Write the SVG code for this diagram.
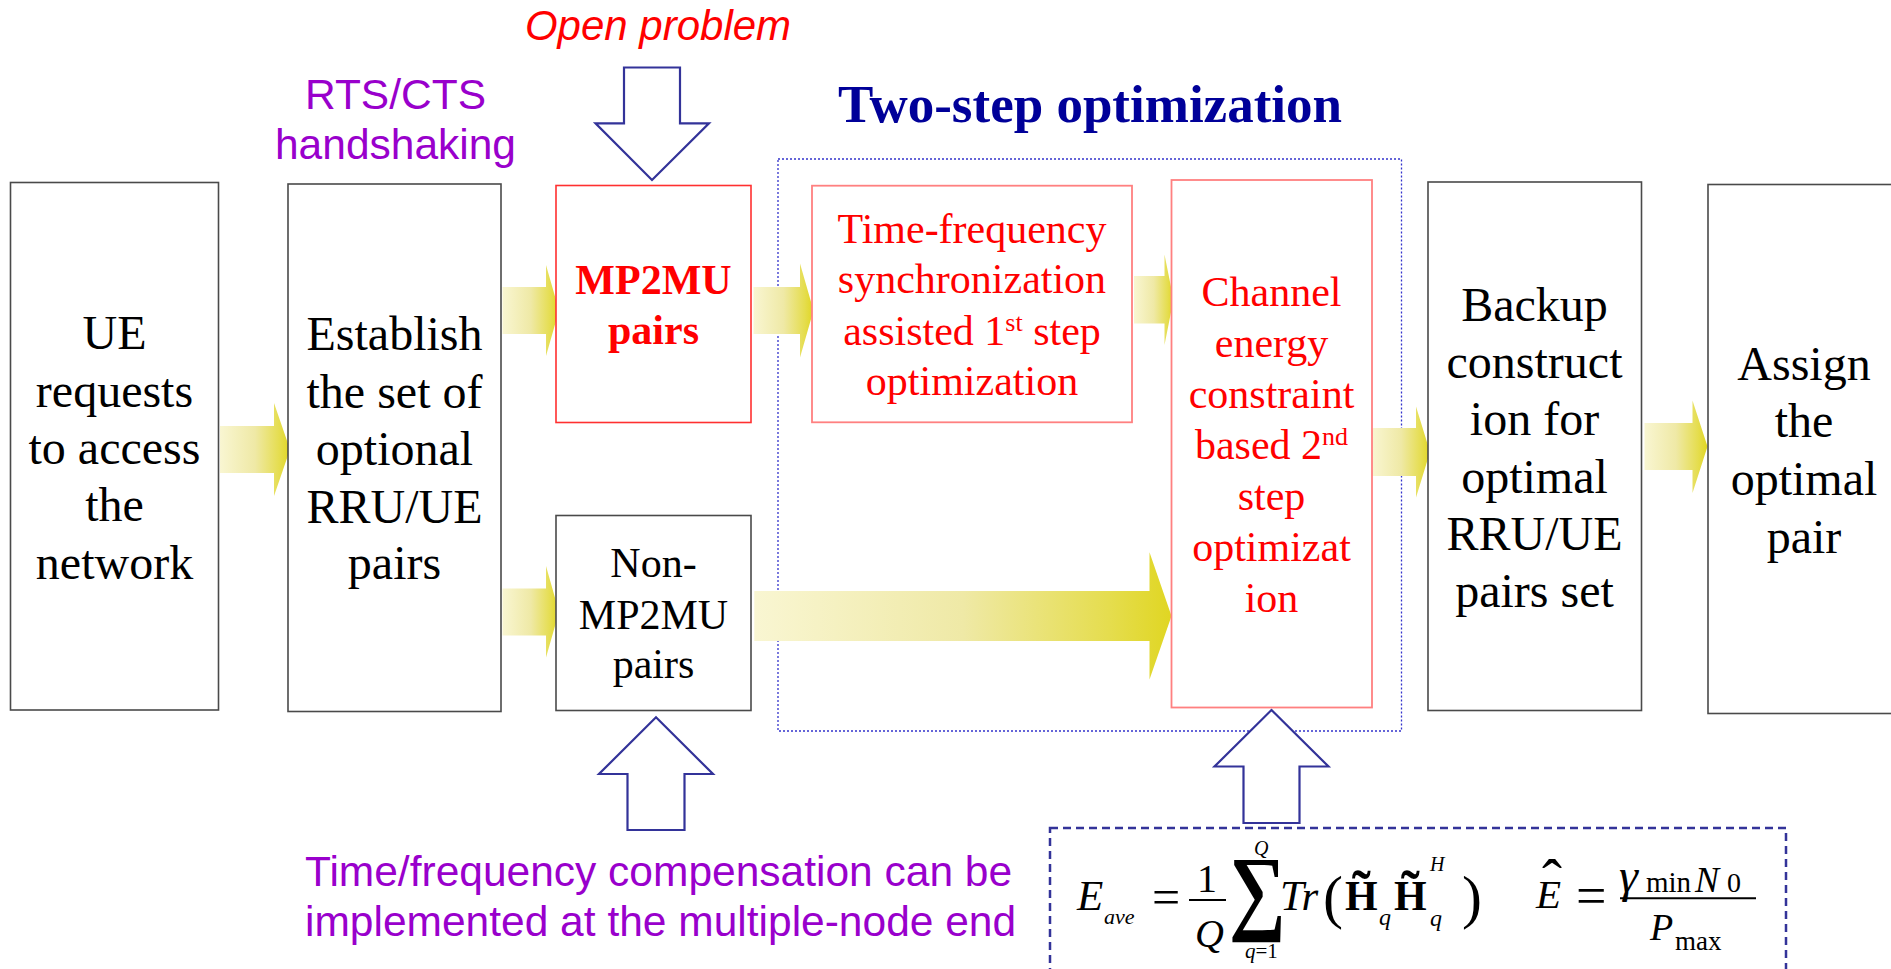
<svg xmlns="http://www.w3.org/2000/svg" width="1891" height="969" viewBox="0 0 1891 969">
  <style>
    .serif { font-family: "Liberation Serif", "Times New Roman", serif; }
    .sans { font-family: "Liberation Sans", Arial, sans-serif; }
    .box { fill: #ffffff; stroke: #4a4a4a; stroke-width: 1.6; }
    .box-red { fill: #ffffff; stroke: #ff8080; stroke-width: 1.8; }
    .box-hot { fill: #ffffff; stroke: #ff3030; stroke-width: 1.6; }
    .lbl { font-family: "Liberation Serif", "Times New Roman", serif; font-size: 48px; fill: #000000; text-anchor: middle; }
    .lbl-red { font-family: "Liberation Serif", "Times New Roman", serif; font-size: 42px; fill: #ff0000; text-anchor: middle; }
    .lbl-42 { font-family: "Liberation Serif", "Times New Roman", serif; font-size: 42px; fill: #000000; text-anchor: middle; }
    .note { font-family: "Liberation Sans", Arial, sans-serif; font-size: 42.5px; fill: #9900cc; }
    .flow { fill: url(#yellowFlow); stroke: none; }
    .hollow { fill: #ffffff; stroke: #333399; stroke-width: 2.2; stroke-linejoin: miter; }
    .math { font-family: "Liberation Serif", "Times New Roman", serif; fill: #000000; }
    .it { font-style: italic; }
    .bf { font-weight: bold; }
  </style>
  <defs>
    <linearGradient id="yellowFlow" x1="0" y1="0" x2="1" y2="0">
      <stop offset="0" stop-color="#f9f6d2"/>
      <stop offset="0.5" stop-color="#efe9a6"/>
      <stop offset="0.85" stop-color="#e5dd4e"/>
      <stop offset="1" stop-color="#e0d622"/>
    </linearGradient>
  </defs>

  <rect width="1891" height="969" fill="#ffffff"/>

  <!-- headings -->
  <g id="title-two-step">
    <text x="1090" y="121.5" class="serif" font-size="53" font-weight="bold" fill="#000099" text-anchor="middle">Two-step optimization</text>
  </g>
  <g id="label-open-problem">
    <text x="658" y="40" class="sans" font-size="42" font-style="italic" fill="#ff0000" text-anchor="middle">Open problem</text>
  </g>
  <g id="label-rts-cts">
    <text x="395.5" y="108.5" class="note" text-anchor="middle">RTS/CTS</text>
    <text x="395.5" y="159" class="note" text-anchor="middle">handshaking</text>
  </g>
  <g id="label-compensation">
    <text x="305" y="885.5" class="note">Time/frequency compensation can be</text>
    <text x="305" y="936" class="note">implemented at the multiple-node end</text>
  </g>

  <!-- dotted frame around the two optimization steps -->
  <g id="two-step-frame">
    <rect x="778" y="159" width="623.5" height="572" fill="none" stroke="#3333cc" stroke-width="1.3" stroke-dasharray="2 2"/>
  </g>

  <!-- connectors -->
  <g id="connectors">
    <path class="flow" d="M220,426 H274 V403 L290,449.5 L274,496 V473 H220 Z"/>
    <path class="flow" d="M502.5,287 H546 V265 L559,310.5 L546,356 V334 H502.5 Z"/>
    <path class="flow" d="M502.5,588.5 H546 V566 L559,612 L546,657.5 V635.5 H502.5 Z"/>
    <path class="flow" d="M753.5,287 H800 V263.5 L813.5,310.5 L800,357.5 V334 H753.5 Z"/>
    <path class="flow" d="M1134,276 H1164.5 V254.5 L1173.5,299.5 L1164.5,345 V323.5 H1134 Z"/>
    <path class="flow" d="M754.3,591 H1149.5 V552.3 L1171.5,616 L1149.5,679.5 V641 H754.3 Z"/>
    <path class="flow" d="M1372,428 H1416 V406.5 L1430,452 L1416,497.5 V476 H1372 Z"/>
    <path class="flow" d="M1644.5,423 H1692.5 V400.5 L1707.5,446.5 L1692.5,493 V470 H1644.5 Z"/>
    <!-- hollow annotation arrows -->
    <path class="hollow" d="M624,67.5 H680 V123.3 H709 L652,180 L595.5,123.3 H624 Z"/>
    <path class="hollow" d="M656,717.3 L713,774 H684.5 V830 H627.5 V774 H599 Z"/>
    <path class="hollow" d="M1271.5,710 L1328.5,766.5 H1299.5 V823 H1243.5 V766.5 H1214.5 Z"/>
  </g>

  <!-- nodes -->
  <g id="node-ue-request">
    <rect class="box" x="10.5" y="182.5" width="208" height="527.5"/>
    <text class="lbl" x="114.5" y="349">UE</text>
    <text class="lbl" x="114.5" y="406.5">requests</text>
    <text class="lbl" x="114.5" y="464">to access</text>
    <text class="lbl" x="114.5" y="521">the</text>
    <text class="lbl" x="114.5" y="578.5">network</text>
  </g>

  <g id="node-establish">
    <rect class="box" x="288" y="184" width="213" height="527.5"/>
    <text class="lbl" x="394.5" y="350">Establish</text>
    <text class="lbl" x="394.5" y="407.5">the set of</text>
    <text class="lbl" x="394.5" y="465">optional</text>
    <text class="lbl" x="394.5" y="522.5">RRU/UE</text>
    <text class="lbl" x="394.5" y="578.5">pairs</text>
  </g>

  <g id="node-mp2mu">
    <rect class="box-hot" x="556" y="185.5" width="195" height="237"/>
    <text class="lbl-red" x="653.5" y="293.5" font-weight="bold">MP2MU</text>
    <text class="lbl-red" x="653.5" y="343.5" font-weight="bold">pairs</text>
  </g>

  <g id="node-non-mp2mu">
    <rect class="box" x="556" y="515.5" width="195" height="195"/>
    <text class="lbl-42" x="653.5" y="576.5">Non-</text>
    <text class="lbl-42" x="653.5" y="628.5">MP2MU</text>
    <text class="lbl-42" x="653.5" y="678">pairs</text>
  </g>

  <g id="node-step-one">
    <rect class="box-red" x="812" y="185.7" width="320" height="236.6"/>
    <text class="lbl-red" x="972" y="242.7">Time-frequency</text>
    <text class="lbl-red" x="972" y="293.3">synchronization</text>
    <text class="lbl-red" x="972" y="345">assisted 1<tspan font-size="26" dy="-14">st</tspan><tspan dy="14"> step</tspan></text>
    <text class="lbl-red" x="972" y="395">optimization</text>
  </g>

  <g id="node-step-two">
    <rect class="box-red" x="1171.5" y="180" width="200.5" height="527.5"/>
    <text class="lbl-red" x="1271.5" y="305.5">Channel</text>
    <text class="lbl-red" x="1271.5" y="356.6">energy</text>
    <text class="lbl-red" x="1271.5" y="407.7">constraint</text>
    <text class="lbl-red" x="1271.5" y="458.8">based 2<tspan font-size="26" dy="-14">nd</tspan></text>
    <text class="lbl-red" x="1271.5" y="509.9">step</text>
    <text class="lbl-red" x="1271.5" y="561">optimizat</text>
    <text class="lbl-red" x="1271.5" y="612.1">ion</text>
  </g>

  <g id="node-backup">
    <rect class="box" x="1428" y="182" width="213.5" height="528.5"/>
    <text class="lbl" x="1534.5" y="321">Backup</text>
    <text class="lbl" x="1534.5" y="378.2">construct</text>
    <text class="lbl" x="1534.5" y="435.4">ion for</text>
    <text class="lbl" x="1534.5" y="492.6">optimal</text>
    <text class="lbl" x="1534.5" y="549.8">RRU/UE</text>
    <text class="lbl" x="1534.5" y="607">pairs set</text>
  </g>

  <g id="node-assign">
    <rect class="box" x="1708" y="184.5" width="200" height="529"/>
    <text class="lbl" x="1804" y="379.5">Assign</text>
    <text class="lbl" x="1804" y="437.2">the</text>
    <text class="lbl" x="1804" y="494.9">optimal</text>
    <text class="lbl" x="1804" y="552.6">pair</text>
  </g>

  <!-- energy formulas -->
  <g id="node-formulas">
    <rect x="1050" y="828" width="736" height="170" fill="none" stroke="#333399" stroke-width="2.5" stroke-dasharray="8 5"/>
    <line x1="1189" y1="900" x2="1226" y2="900" stroke="#000000" stroke-width="2"/>
    <line x1="1620" y1="898.3" x2="1756" y2="898.3" stroke="#000000" stroke-width="2"/>
    <!-- E_ave = (1/Q) sum_{q=1}^{Q} Tr(H~_q H~_q^H) -->
    <text class="math"><tspan class="it" x="1077" y="910" font-size="43">E</tspan><tspan class="it" x="1104" y="924" font-size="22">ave</tspan><tspan x="1152" y="914" font-size="50">=</tspan><tspan x="1197" y="891.5" font-size="40">1</tspan><tspan class="it" x="1195" y="947" font-size="40">Q</tspan><tspan class="it" x="1254" y="855" font-size="20">Q</tspan><tspan x="1245" y="958" font-size="21"><tspan class="it">q</tspan>=1</tspan><tspan class="it" x="1280" y="910" font-size="43">Tr</tspan><tspan x="1323" y="917" font-size="60">(</tspan><tspan class="bf" x="1345" y="910" font-size="42">H</tspan><tspan class="bf" x="1352" y="910" font-size="56">˜</tspan><tspan class="it" x="1379" y="925" font-size="24">q</tspan><tspan class="bf" x="1394" y="910" font-size="42">H</tspan><tspan class="bf" x="1401" y="910" font-size="56">˜</tspan><tspan class="it" x="1430" y="871" font-size="20">H</tspan><tspan class="it" x="1430" y="926" font-size="24">q</tspan><tspan x="1462" y="917" font-size="60">)</tspan></text>
    <text class="math bf" transform="translate(1229,922) scale(0.95,1.13)" font-size="84">∑</text>
    <!-- E^ = gamma_min N_0 / P_max -->
    <text class="math"><tspan class="it" x="1536" y="907.5" font-size="41">E</tspan><tspan x="1542" y="900" font-size="60">ˆ</tspan><tspan x="1576" y="913.5" font-size="54">=</tspan><tspan class="it" x="1619" y="891.5" font-size="48">γ</tspan><tspan x="1646" y="891.5" font-size="29">min</tspan><tspan class="it" x="1695" y="891.5" font-size="36">N</tspan><tspan x="1727" y="891.7" font-size="28">0</tspan><tspan class="it" x="1650" y="940" font-size="38">P</tspan><tspan x="1675" y="950" font-size="27">max</tspan></text>
  </g>
</svg>
